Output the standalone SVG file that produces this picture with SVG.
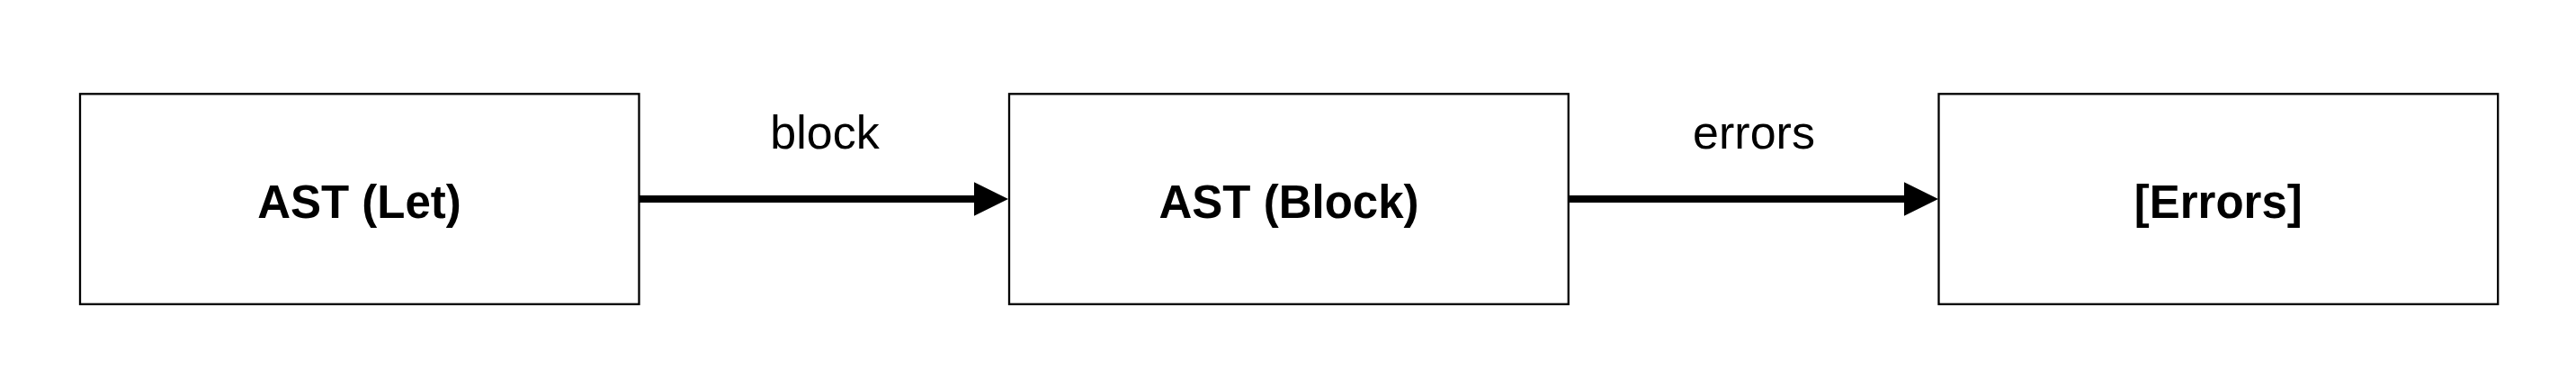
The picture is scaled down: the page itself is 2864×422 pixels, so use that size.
<svg xmlns="http://www.w3.org/2000/svg" width="2864" height="422" viewBox="0 0 2864 422">
  <style>
    .box { fill: #ffffff; stroke: #000000; stroke-width: 2.3; }
    .title { font-family: "Liberation Sans", Arial, Helvetica, sans-serif; font-weight: bold; font-size: 51px; fill: #000000; text-anchor: middle; }
    .label { font-family: "Liberation Sans", Arial, Helvetica, sans-serif; font-size: 52px; fill: #000000; text-anchor: middle; }
    .edge { stroke: #000000; stroke-width: 8; fill: none; }
  </style>
  <defs>
    <marker id="arrow" markerUnits="userSpaceOnUse" markerWidth="38" markerHeight="38" viewBox="0 0 38 38" refX="7" refY="19" orient="auto">
      <path d="M0,0.3 L38,19 L0,37.7 Z" fill="#000000"/>
    </marker>
  </defs>
  <rect width="2864" height="422" fill="#ffffff"/>
  <g id="connectors">
    <g id="edge-block">
      <line class="edge" x1="711" y1="221" x2="1090" y2="221" marker-end="url(#arrow)"/>
      <text class="label" x="917" y="165">block</text>
    </g>
    <g id="edge-errors">
      <line class="edge" x1="1745" y1="221" x2="2124" y2="221" marker-end="url(#arrow)"/>
      <text class="label" x="1950" y="165">errors</text>
    </g>
  </g>
  <g id="node-ast-let">
    <rect class="box" x="89" y="104.3" width="621.5" height="233.5"/>
    <text class="title" x="399.5" y="241.5">AST (Let)</text>
  </g>
  <g id="node-ast-block">
    <rect class="box" x="1122" y="104.3" width="621.8" height="233.5"/>
    <text class="title" x="1433" y="241.5">AST (Block)</text>
  </g>
  <g id="node-errors">
    <rect class="box" x="2155.5" y="104.3" width="621.7" height="233.5"/>
    <text class="title" x="2466.3" y="241.5">[Errors]</text>
  </g>
</svg>
